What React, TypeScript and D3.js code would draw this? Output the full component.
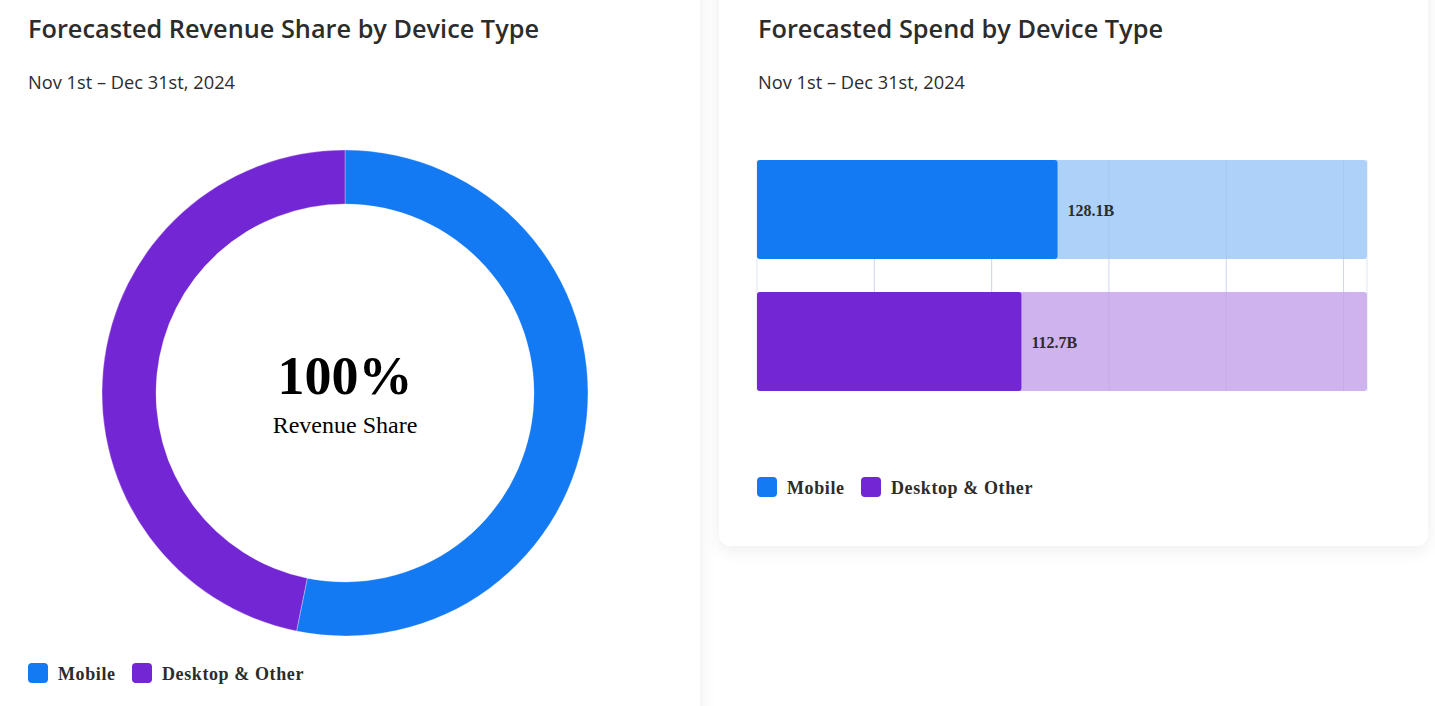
import React from 'react';
import * as d3 from 'd3';

const WIDTH = 1435;
const HEIGHT = 706;

const devices = ['Mobile', 'Desktop & Other'];
const spend = [128.1, 112.7];
const spendLabels = ['128.1B', '112.7B'];
const colors = ['#147AF3', '#7326D3'];
const lightColors = ['#AED1FA', '#CFB3EF'];
const gridTicks = [0, 50, 100, 150, 200, 250];
const axisMax = 260;

const TEXT = '#2c2c2c';
const SANS = "'Open Sans', 'Noto Sans', sans-serif";
const SERIF = "'Liberation Serif', 'Times New Roman', serif";

const Legend = ({ x, y }: { x: number; y: number }) => (
  <g transform={`translate(${x}, ${y})`}>
    {devices.map((d, i) => {
      const off = i === 0 ? 0 : 104;
      return (
        <g key={d} transform={`translate(${off}, 0)`}>
          <rect width={20} height={20} rx={4} fill={colors[i]} />
          <text x={30} y={17} fontFamily={SERIF} fontWeight={700} fontSize={18} letterSpacing={0.6} fill={TEXT}>
            {d}
          </text>
        </g>
      );
    })}
  </g>
);

const Header = ({ x, title, titleLen }: { x: number; title: string; titleLen: number }) => (
  <g>
    <text x={x} y={38} fontFamily={SANS} fontWeight={600} fontSize={26} fill={TEXT}
      textLength={titleLen} lengthAdjust="spacingAndGlyphs">
      {title}
    </text>
    <text x={x} y={89} fontFamily={SANS} fontSize={19} fill={TEXT}
      textLength={207} lengthAdjust="spacingAndGlyphs">
      Nov 1st – Dec 31st, 2024
    </text>
  </g>
);

const Donut = () => {
  const cx = 345;
  const cy = 393;
  const pie = d3.pie<number>().sort(null).value(d => d);
  const arc = d3.arc<d3.PieArcDatum<number>>().innerRadius(189).outerRadius(243);
  const slices = pie(spend);
  return (
    <g transform={`translate(${cx}, ${cy})`}>
      {slices.map((s, i) => (
        <path key={i} d={arc(s) || ''} fill={colors[i]} stroke="#ffffff" strokeOpacity={0.5} strokeWidth={0.6} />
      ))}
      <text x={0} y={1} textAnchor="middle" fontFamily={SERIF} fontWeight={700} fontSize={54} fill="#000">
        100%
      </text>
      <text x={0} y={40} textAnchor="middle" fontFamily={SERIF} fontSize={24} fill="#000">
        Revenue Share
      </text>
    </g>
  );
};

const Bars = () => {
  const x = d3.scaleLinear().domain([0, axisMax]).range([757, 1367]);
  const y = d3.scaleBand<string>().domain(devices).range([160, 391]).paddingInner(0.25);
  const bw = y.bandwidth();
  return (
    <g>
      {gridTicks.map(t => (
        <line key={t} x1={x(t)} x2={x(t)} y1={160} y2={391} stroke="#dfe5f3" strokeWidth={1} />
      ))}
      <line x1={x(axisMax)} x2={x(axisMax)} y1={160} y2={391} stroke="#dfe5f3" strokeWidth={1} />
      {devices.map((d, i) => (
        <rect key={`bg-${d}`} x={x(0)} y={y(d)} width={x(axisMax) - x(0)} height={bw}
          rx={3} fill={lightColors[i]} />
      ))}
      {gridTicks.slice(1).map(t => (
        <line key={`o-${t}`} x1={x(t)} x2={x(t)} y1={160} y2={391} stroke="#8f8fd8" strokeOpacity={0.18} strokeWidth={1} />
      ))}
      {devices.map((d, i) => (
        <g key={d}>
          <rect x={x(0)} y={y(d)} width={x(spend[i]) - x(0)} height={bw} rx={3} fill={colors[i]} />
          <text x={x(spend[i]) + 10} y={(y(d) || 0) + bw / 2 + 6} fontFamily={SERIF} fontWeight={700}
            fontSize={16} fill={TEXT}>
            {spendLabels[i]}
          </text>
        </g>
      ))}
    </g>
  );
};

export default function App() {
  return (
    <svg width={WIDTH} height={HEIGHT} style={{ position: 'absolute', left: 0, top: 0, background: '#ffffff' }}>
      <defs>
        <filter id="shadow" x="-10%" y="-10%" width="120%" height="120%">
          <feDropShadow dx={0} dy={4} stdDeviation={8} floodColor="#000" floodOpacity={0.07} />
        </filter>
      </defs>
      <rect x={-30} y={-30} width={730} height={780} rx={12} fill="#fff" filter="url(#shadow)" />
      <rect x={719} y={-30} width={709} height={576} rx={12} fill="#fff" filter="url(#shadow)" />
      <Header x={28} title="Forecasted Revenue Share by Device Type" titleLen={511} />
      <Header x={758} title="Forecasted Spend by Device Type" titleLen={405} />
      <Donut />
      <Legend x={28} y={663} />
      <Bars />
      <Legend x={757} y={477} />
    </svg>
  );
}
